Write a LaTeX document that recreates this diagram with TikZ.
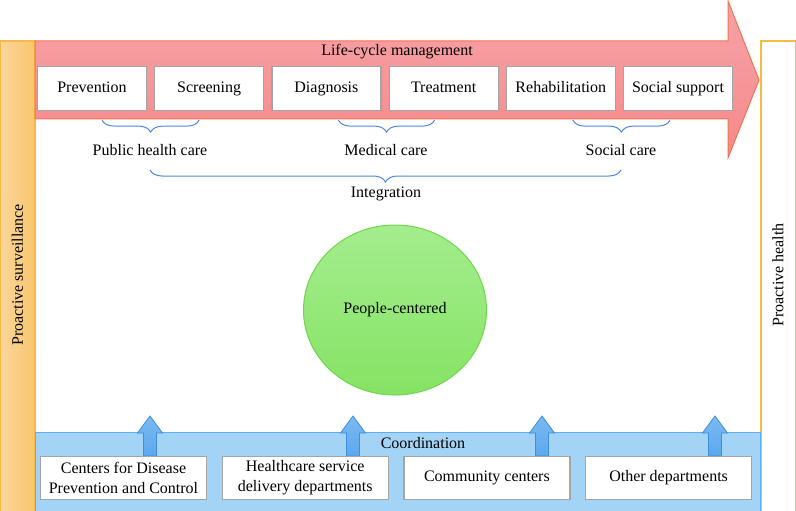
\documentclass[tikz,border=0pt]{standalone}
\usepackage{fontspec}
\setmainfont{Liberation Serif}
\usetikzlibrary{positioning,decorations.pathreplacing,shapes.geometric}
\definecolor{BoxGray}{HTML}{A5A5A5}
\definecolor{LifeTop}{HTML}{F5A3A8}
\definecolor{LifeBottom}{HTML}{F7898A}
\definecolor{LifeBorder}{HTML}{F4734F}
\definecolor{BraceBlue}{HTML}{4F86EC}
\definecolor{PeopleTop}{HTML}{A4ED8F}
\definecolor{PeopleBottom}{HTML}{86E364}
\definecolor{PeopleBorder}{HTML}{70D64B}
\definecolor{CoordFill}{HTML}{A3D3F5}
\definecolor{CoordBorder}{HTML}{5DAFF2}
\definecolor{UpFill}{HTML}{5BA8EE}
\definecolor{UpBorder}{HTML}{3D8FE0}
\definecolor{SurvLeft}{HTML}{FAD49B}
\definecolor{SurvRight}{HTML}{F9C66C}
\definecolor{SurvBorder}{HTML}{F7BB45}

\begin{document}
\begin{tikzpicture}[
    x=1pt, y=-1pt,
    font=\fontsize{16}{19}\selectfont,
    stage/.style={draw=BoxGray, line width=1.2pt, fill=white, minimum width=109pt,
                  minimum height=44pt, inner sep=0pt, text height=0.95em, text depth=0.15em},
    dept/.style={draw=BoxGray, line width=1.2pt, fill=white, minimum width=166pt,
                 minimum height=43pt, inner sep=0pt, align=center,
                 font=\fontsize{16}{20}\selectfont},
    care/.style={decorate, decoration={brace, mirror, amplitude=12pt}, draw=BraceBlue,
                 line width=1pt},
    uparrow/.style={draw=UpBorder, line width=0.8pt, top color=UpFill!80, bottom color=UpFill},
    node distance=7pt
  ]
    \useasboundingbox (0,0) rectangle (796,511);

    % side bars
    \draw[draw=SurvBorder, line width=1.2pt, left color=SurvLeft, right color=SurvRight]
      (0.6,41) rectangle (35,512);
    \node[rotate=90] (surv) at (17.5,275) {Proactive surveillance};
    \draw[draw=SurvBorder, line width=1.2pt, fill=white] (761,41) rectangle (795.4,512);
    \node[rotate=90] (health) at (778,275) {Proactive health};

    % life-cycle arrow
    \draw[draw=LifeBorder, line width=1pt, top color=LifeTop, bottom color=LifeBottom]
      (35,41) -- (728,41) -- (728,0.8) -- (759,80) -- (728,158) -- (728,119) -- (35,119) -- cycle;
    \node (life) at (397,52) {Life-cycle management};

    \node[stage] (prev) at (92,88.5) {Prevention};
    \node[stage, right=of prev] (scr) {Screening};
    \node[stage, right=of scr] (diag) {Diagnosis};
    \node[stage, right=of diag] (treat) {Treatment};
    \node[stage, right=of treat] (rehab) {Rehabilitation};
    \node[stage, right=of rehab] (supp) {Social support};

    % care groups
    \draw[care] ([xshift=10pt,yshift=-9pt]prev.south) -- ([xshift=-10pt,yshift=-9pt]scr.south);
    \draw[care] ([xshift=12pt,yshift=-9pt]diag.south) -- ([xshift=-9pt,yshift=-9pt]treat.south);
    \draw[care] ([xshift=12pt,yshift=-9pt]rehab.south) -- ([xshift=-8pt,yshift=-9pt]supp.south);
    \node (phc) at (150,150) {Public health care};
    \node (med) at (386,150) {Medical care};
    \node (soc) at (621,150) {Social care};

    \draw[care] ([yshift=-20pt]phc.center) -- ([yshift=-20pt]soc.center);
    \node (integ) at (386,194) {Integration};

    % centre
    \node[ellipse, draw=PeopleBorder, line width=1pt, top color=PeopleTop, bottom color=PeopleBottom,
          minimum width=183pt, minimum height=170pt] (people) at (395,310) {People-centered};

    % coordination
    \draw[draw=CoordBorder, line width=1pt, fill=CoordFill] (35,432) rectangle (760,513);
    \node (coord) at (423,443) {Coordination};

    \foreach \ax in {150,353,542,715}
      \draw[uparrow] (\ax-6.5,456) -- (\ax-6.5,433) -- (\ax-12.5,433) -- (\ax,416)
        -- (\ax+12.5,433) -- (\ax+6.5,433) -- (\ax+6.5,456) -- cycle;

    \node[dept] (cdc) at (123.5,478) {Centers for Disease\\Prevention and Control};
    \node[dept, right=14.5pt of cdc] (hsd) {Healthcare service\\delivery departments};
    \node[dept, right=14.5pt of hsd] (comm) {Community centers};
    \node[dept, right=14.5pt of comm] (other) {Other departments};
  \end{tikzpicture}
\end{document}
